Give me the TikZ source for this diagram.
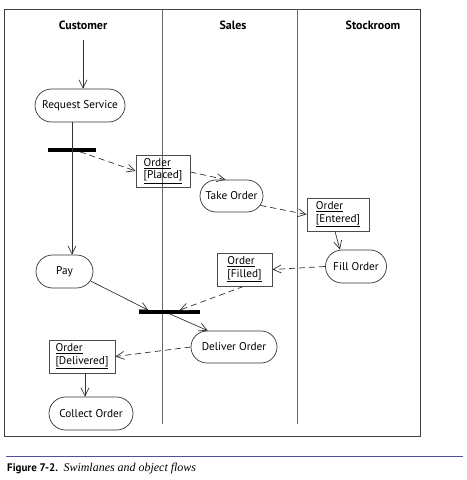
\documentclass[tikz,border=0pt]{standalone}
\usepackage{fontspec}
\setmainfont{PT Sans}
\newfontfamily\capserif{Liberation Serif}
\usetikzlibrary{arrows.meta,shapes.misc}
\definecolor{capline}{RGB}{80,80,160}
\tikzset{
  ln/.style={draw=black!80, line width=0.7bp},
  arr/.style={ln, -{Straight Barb[length=8bp,width=8bp]}},
  flow/.style={arr, dash pattern=on 6bp off 4bp},
  act/.style={rounded rectangle, draw=black!80, line width=0.7bp, font=\fontsize{11.3}{12.5}\selectfont, inner sep=0pt},
  obj/.style={rectangle, draw=black!70, line width=0.8bp, font=\fontsize{11.3}{12.5}\selectfont, align=left, inner sep=0pt},
  bar/.style={rectangle, fill=black, inner sep=0pt, minimum height=3.2bp},
  lane/.style={font=\bfseries\fontsize{12}{13}\selectfont}
}
\begin{document}
\begin{tikzpicture}[x=1bp,y=-1bp]
\useasboundingbox (0,0) rectangle (467,480);
% frame and lanes
\draw[draw=black!75, line width=0.9bp] (4,9) rectangle (420,436);
\draw[draw=black!60, line width=0.7bp] (162,9) -- (162,424);
\draw[draw=black!60, line width=0.7bp] (297,9) -- (297,424);
\node[lane] (hc) at (83,25) {Customer};
\node[lane] (hs) at (233,25) {Sales};
\node[lane] (hr) at (373,25) {Stockroom};
% activities
\node[act, minimum width=90bp, minimum height=33bp] (rs) at (80,105.5) {Request Service};
\node[act, minimum width=57bp, minimum height=33bp] (pay) at (64.5,271.5) {Pay};
\node[act, minimum width=63bp, minimum height=32bp] (to) at (231.5,196) {Take Order};
\node[act, minimum width=61bp, minimum height=33bp] (fo) at (356,266.5) {Fill Order};
\node[act, minimum width=86bp, minimum height=32bp] (do) at (234,347) {Deliver Order};
\node[act, minimum width=84bp, minimum height=33bp] (co) at (91,413.5) {Collect Order};
% objects
\node[obj, minimum width=54bp, minimum height=32bp] (op) at (163,171) {\underline{Order}\\\underline{[Placed]}};
\node[obj, minimum width=62bp, minimum height=33bp] (oe) at (338,214.5) {\underline{Order}\\\underline{[Entered]}};
\node[obj, minimum width=55bp, minimum height=33bp] (of) at (244.5,269.5) {\underline{Order}\\\underline{[Filled]}};
\node[obj, minimum width=66bp, minimum height=33bp] (od) at (82,356.5) {\underline{Order}\\\underline{[Delivered]}};
% bars
\node[bar, minimum width=48bp] (f1) at (72,150) {};
\node[bar, minimum width=61bp] (f2) at (169.5,312) {};
% start
\coordinate (start) at (83,40);
% connectors
\draw[arr] (start) -- (start |- rs.north);
\draw[arr] ([xshift=-8bp]rs.south) -- ([xshift=-8bp]rs.south |- pay.north);
\draw[flow] ([xshift=8bp]f1.south) -- (op.west);
\draw[flow] ([yshift=-1bp]op.east) -- ([xshift=-6bp]to.north);
\draw[flow] (to.-18) -- (oe.west);
\draw[arr] ([xshift=-3bp]oe.south) -- ([xshift=-16bp]fo.north);
\draw[flow] (fo.west) -- (of.east);
\draw[flow] ([xshift=-1bp]of.south) -- ([xshift=10bp]f2.north);
\draw[arr] (pay.-20) -- ([xshift=-21bp]f2.north);
\draw[arr] (f2.south) -- (do.148);
\draw[flow] (do.west) -- (od.east);
\draw[arr] ([xshift=3bp]od.south) -- ([xshift=3bp]od.south |- co.north);
% caption
\draw[capline, line width=0.8bp] (6,456) -- (463,456);
\node[anchor=west, inner sep=0pt] (cap) at (7,469) {\fontsize{11}{12}\selectfont\bfseries Figure 7-2.\ \ {\capserif\mdseries\itshape\fontsize{12}{13}\selectfont Swimlanes and object flows}};
\end{tikzpicture}
\end{document}
